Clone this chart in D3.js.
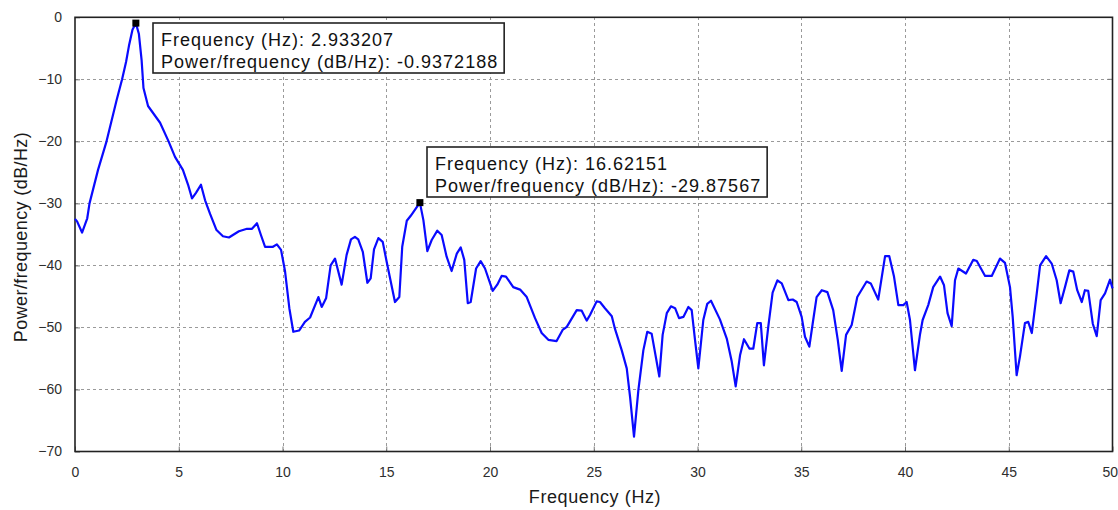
<!DOCTYPE html>
<html>
<head>
<meta charset="utf-8">
<script src="https://cdn.jsdelivr.net/npm/d3@7"></script>
<style>
  html, body { margin: 0; padding: 0; background: #fff; }
  svg { display: block; font-family: Arial, "Liberation Sans", sans-serif; }
</style>
</head>
<body>
<svg id="chart" width="1118" height="510"></svg>
<script>
// Welch power spectral density estimate (dB/Hz) against frequency (Hz)
const freqHz = [
  0.00, 0.10, 0.34, 0.59, 0.70, 1.11, 1.52, 2.01, 2.27, 2.46, 2.60, 2.77, 2.933207,
  3.08, 3.21, 3.30, 3.52, 4.10, 4.51, 4.82, 5.20, 5.45, 5.64, 5.83, 6.07, 6.27, 6.51,
  6.82, 7.13, 7.42, 7.61, 7.90, 8.29, 8.53, 8.77, 8.96, 9.16, 9.54, 9.73, 9.93, 10.12,
  10.33, 10.52, 10.80, 11.08, 11.33, 11.73, 11.89, 12.10, 12.32, 12.53, 12.85, 13.09,
  13.30, 13.49, 13.65, 13.87, 14.09, 14.25, 14.41, 14.62, 14.83, 15.02, 15.42, 15.63,
  15.77, 15.99, 16.18, 16.62151, 16.79, 16.98, 17.19, 17.46, 17.67, 17.91, 18.15, 18.40,
  18.59, 18.76, 18.93, 19.07, 19.33, 19.55, 19.76, 20.13, 20.35, 20.56, 20.77, 21.12,
  21.45, 21.77, 22.17, 22.49, 22.81, 23.21, 23.50, 23.70, 24.18, 24.42, 24.66, 24.82,
  25.14, 25.30, 25.54, 25.87, 26.02, 26.35, 26.59, 26.75, 26.94, 27.15, 27.39, 27.58,
  27.79, 28.16, 28.32, 28.52, 28.72, 28.92, 29.11, 29.32, 29.56, 29.72, 29.88, 30.04,
  30.28, 30.47, 30.65, 31.08, 31.41, 31.65, 31.84, 32.05, 32.24, 32.50, 32.69, 32.88,
  33.05, 33.20, 33.41, 33.62, 33.85, 34.06, 34.38, 34.59, 34.78, 35.02, 35.18, 35.39,
  35.55, 35.74, 35.99, 36.26, 36.54, 36.76, 36.95, 37.16, 37.43, 37.70, 38.15, 38.35,
  38.71, 39.04, 39.24, 39.47, 39.68, 39.92, 40.08, 40.24, 40.48, 40.72, 40.85, 41.12,
  41.36, 41.69, 41.88, 42.05, 42.25, 42.41, 42.57, 42.94, 43.29, 43.46, 43.86, 44.18,
  44.58, 44.82, 45.06, 45.19, 45.38, 45.54, 45.78, 45.94, 46.11, 46.35, 46.51, 46.80,
  47.07, 47.31, 47.50, 47.71, 47.92, 48.11, 48.30, 48.52, 48.67, 48.83, 49.05, 49.24,
  49.43, 49.64, 49.88, 50.00
];
const powerDb = [
  -32.5, -32.9, -34.7, -32.4, -30.0, -24.6, -20.0, -13.3, -10.0, -7.2, -4.6, -2.0, -0.9372188,
  -2.7, -6.9, -11.4, -14.3, -17.0, -20.0, -22.5, -24.6, -27.0, -29.2, -28.3, -27.0, -29.5, -31.7,
  -34.3, -35.3, -35.5, -35.1, -34.5, -34.1, -34.1, -33.2, -35.1, -37.0, -37.0, -36.6, -37.5, -40.9,
  -46.9, -50.7, -50.5, -49.1, -48.4, -45.1, -46.7, -45.3, -40.0, -38.9, -43.1, -38.3,
  -35.8, -35.4, -35.8, -37.8, -42.8, -42.1, -37.4, -35.6, -36.2, -39.4, -45.9, -45.1,
  -37.0, -32.8, -32.0, -29.87567, -32.7, -37.7, -35.9, -34.4, -35.1, -38.6, -40.9, -38.1,
  -37.1, -39.1, -46.1, -45.9, -40.5, -39.3, -40.5, -44.1, -43.1, -41.7, -41.8, -43.5,
  -43.9, -45.1, -48.5, -50.9, -52.0, -52.2, -50.4, -49.9, -47.2, -47.3, -48.9, -48.0,
  -45.8, -45.9, -46.9, -48.2, -50.2, -53.7, -56.6, -61.2, -67.6, -60.1, -53.7, -50.7,
  -51.0, -57.9, -51.2, -47.7, -46.6, -46.9, -48.5, -48.3, -46.7, -47.2, -52.0, -56.6,
  -48.8, -46.2, -45.7, -48.7, -51.8, -55.5, -59.5, -54.5, -51.9, -53.4, -53.4, -49.3,
  -49.3, -56.1, -49.9, -44.4, -42.4, -42.9, -45.6, -45.5, -45.9, -48.3, -51.5, -53.1,
  -49.4, -45.1, -44.0, -44.3, -47.2, -52.0, -57.0, -51.2, -49.6, -45.1, -42.6, -42.9,
  -45.5, -38.5, -38.5, -41.8, -46.4, -46.4, -45.9, -48.8, -56.9, -51.2, -48.8, -46.4,
  -43.5, -41.8, -43.2, -47.7, -49.8, -42.4, -40.5, -41.3, -39.1, -39.3, -41.7, -41.7,
  -38.9, -39.6, -43.5, -48.3, -57.7, -54.7, -49.3, -49.1, -50.9, -44.5, -40.0, -38.5,
  -39.7, -42.4, -46.1, -43.5, -40.8, -41.0, -44.0, -45.9, -44.0, -44.1, -49.4, -51.4,
  -45.6, -44.5, -42.3, -43.7
];

const xTicks = [0, 5, 10, 15, 20, 25, 30, 35, 40, 45, 50];
const yTicks = [0, -10, -20, -30, -40, -50, -60, -70];

// Data cursors placed on the two spectral peaks
const cursorFreq = [2.933207, 16.62151];
const cursorPower = [-0.9372188, -29.87567];
const cursorFreqText = ["2.933207", "16.62151"];
const cursorPowerText = ["-0.9372188", "-29.87567"];

const xLabel = "Frequency (Hz)";
const yLabel = "Power/frequency (dB/Hz)";

const svg = d3.select("#chart");
const plotLeft = 75, plotRight = 1112.5, plotTop = 17.3, plotBottom = 451.5;

const x = d3.scaleLinear().domain([0, 50]).range([plotLeft, plotRight]);
const y = d3.scaleLinear().domain([-70, 0]).range([plotBottom, plotTop]);

// Dashed grid
const grid = svg.append("g").attr("stroke", "#9a9a9a").attr("stroke-width", 1)
  .attr("stroke-dasharray", "3,3").attr("shape-rendering", "crispEdges");
grid.selectAll("line.v").data(xTicks.filter(t => t > 0 && t < 50)).join("line")
  .attr("class", "v")
  .attr("x1", d => Math.round(x(d)) + 0.5).attr("x2", d => Math.round(x(d)) + 0.5)
  .attr("y1", plotTop).attr("y2", plotBottom);
grid.selectAll("line.h").data(yTicks.filter(t => t < 0 && t > -70)).join("line")
  .attr("class", "h")
  .attr("y1", d => Math.round(y(d)) + 0.5).attr("y2", d => Math.round(y(d)) + 0.5)
  .attr("x1", plotLeft).attr("x2", plotRight);

// Axes with inward ticks
const xAxis = svg.append("g").attr("transform", `translate(0,${plotBottom})`)
  .call(d3.axisBottom(x).tickValues(xTicks).tickSizeInner(-5).tickSizeOuter(0).tickPadding(16));
const yAxis = svg.append("g").attr("transform", `translate(${plotLeft},0)`)
  .call(d3.axisLeft(y).tickValues(yTicks).tickSizeInner(-5).tickSizeOuter(0).tickPadding(13));
[xAxis, yAxis].forEach(g => {
  g.select(".domain").remove();
  g.selectAll(".tick line").attr("stroke", "#777");
  g.selectAll(".tick text").attr("fill", "#2e2e2e").attr("font-size", 14)
    .attr("font-family", "Arial, 'Liberation Sans', sans-serif");
});
// keep the last frequency label inside the page
xAxis.selectAll(".tick text").filter(d => d === 50)
  .attr("text-anchor", "end").attr("dx", 5);
// right-side ticks
svg.append("g").selectAll("line").data(yTicks.filter(t => t < 0 && t > -70)).join("line")
  .attr("x1", plotRight - 5).attr("x2", plotRight)
  .attr("y1", d => y(d)).attr("y2", d => y(d)).attr("stroke", "#777");

// Plot frame
svg.append("rect").attr("x", plotLeft).attr("y", plotTop)
  .attr("width", plotRight - plotLeft).attr("height", plotBottom - plotTop)
  .attr("fill", "none").attr("stroke", "#222").attr("stroke-width", 1.6);

// Spectrum trace
const pts = freqHz.map((f, i) => [f, powerDb[i]]);
svg.append("path").datum(pts)
  .attr("fill", "none").attr("stroke", "#0a0aff").attr("stroke-width", 2.2)
  .attr("stroke-linejoin", "round")
  .attr("d", d3.line().x(d => x(d[0])).y(d => y(d[1])));

// Axis titles
svg.append("text").attr("x", 595).attr("y", 503)
  .attr("text-anchor", "middle").attr("font-size", 18).attr("letter-spacing", 0.6)
  .attr("fill", "#1a1a1a").text(xLabel);
svg.append("text").attr("transform", "translate(27,237) rotate(-90)")
  .attr("text-anchor", "middle").attr("font-size", 18).attr("letter-spacing", 0.4)
  .attr("fill", "#1a1a1a").text(yLabel);

// Data cursor boxes and markers
const boxPos = [[153, 23], [427, 147]];
cursorFreq.forEach((f, i) => {
  const g = svg.append("g");
  const bx = boxPos[i][0], by = boxPos[i][1];
  const rect = g.append("rect");
  const t1 = g.append("text").attr("x", bx + 8).attr("y", by + 23)
    .attr("font-size", 18).attr("letter-spacing", 1.0).attr("fill", "#111")
    .text("Frequency (Hz): " + cursorFreqText[i]);
  const t2 = g.append("text").attr("x", bx + 8).attr("y", by + 45)
    .attr("font-size", 18).attr("letter-spacing", 1.0).attr("fill", "#111")
    .text("Power/frequency (dB/Hz): " + cursorPowerText[i]);
  const w = Math.max(t1.node().getBBox().width, t2.node().getBBox().width);
  rect.attr("x", bx).attr("y", by).attr("width", w + 14).attr("height", 50)
    .attr("fill", "#fff").attr("stroke", "#222").attr("stroke-width", 1.6);
  svg.append("rect")
    .attr("x", x(f) - 3.5).attr("y", y(cursorPower[i]) - 3.5)
    .attr("width", 7).attr("height", 7).attr("fill", "#000");
});
</script>
</body>
</html>
